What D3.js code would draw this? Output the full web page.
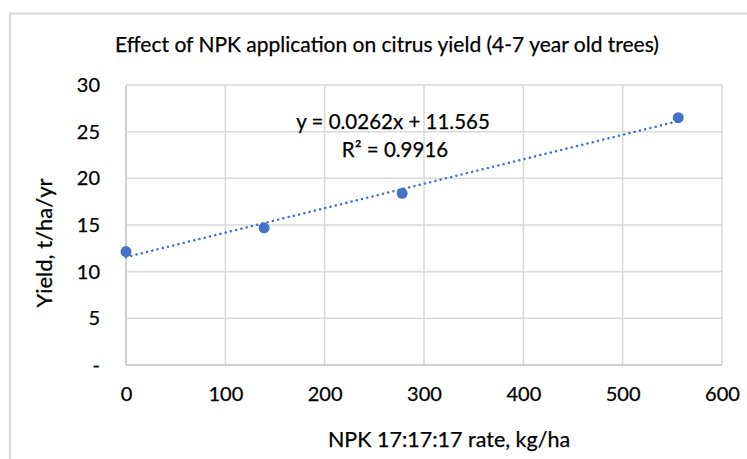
<!DOCTYPE html>
<html>
<head>
<meta charset="utf-8">
<script src="https://cdn.jsdelivr.net/npm/d3@7"></script>
<style>
  body { margin: 0; background: #fff; }
  svg { display: block; font-family: Lato, "Open Sans", sans-serif; }
  text { fill: #000; stroke: #000; stroke-width: 0.25px; }
</style>
</head>
<body>
<div id="chart"></div>
<script>
/* DATA */
const npkRates = [0, 139, 278, 556];          // kg/ha
const yields = [12.15, 14.7, 18.4, 26.5];     // t/ha/yr
const xTicks = [0, 100, 200, 300, 400, 500, 600];
const yTicks = [0, 5, 10, 15, 20, 25, 30];
const yTickLabels = ["-", "5", "10", "15", "20", "25", "30"];
const trendSlope = 0.0262, trendIntercept = 11.565;
const eqLines = ["y = 0.0262x + 11.565", "R² = 0.9916"];

/* LAYOUT */
const width = 747, height = 459;
const margin = { top: 85, right: 25, bottom: 94, left: 126 };
const blue = "#4472C4";

const svg = d3.select("#chart").append("svg")
  .attr("width", width)
  .attr("height", height);

// chart-area border (runs off the right and bottom edge)
svg.append("rect")
  .attr("x", 10).attr("y", 13.5)
  .attr("width", width + 20).attr("height", height + 20)
  .attr("fill", "none")
  .attr("stroke", "#d9d9d9")
  .attr("stroke-width", 2);

const x = d3.scaleLinear().domain([0, 600]).range([margin.left, width - margin.right]);
const y = d3.scaleLinear().domain([0, 30]).range([height - margin.bottom, margin.top]);

// gridlines
svg.append("g")
  .selectAll("line")
  .data(xTicks)
  .join("line")
  .attr("x1", d => x(d)).attr("x2", d => x(d))
  .attr("y1", y(0)).attr("y2", y(30))
  .attr("stroke", d => d === 0 ? "#bfbfbf" : "#d9d9d9")
  .attr("stroke-width", 1.5);

svg.append("g")
  .selectAll("line")
  .data(yTicks)
  .join("line")
  .attr("x1", x(0)).attr("x2", x(600))
  .attr("y1", d => y(d)).attr("y2", d => y(d))
  .attr("stroke", d => d === 0 ? "#bfbfbf" : "#d9d9d9")
  .attr("stroke-width", 1.5);

// axes (labels only)
const xAxis = d3.axisBottom(x).tickValues(xTicks).tickSize(0).tickPadding(22);
const yAxis = d3.axisLeft(y).tickValues(yTicks).tickSize(0).tickPadding(26)
  .tickFormat((d, i) => yTickLabels[i]);

svg.append("g")
  .attr("transform", `translate(0,${y(0)})`)
  .call(xAxis)
  .call(g => g.select(".domain").remove())
  .selectAll("text")
  .attr("font-size", 20)
  .attr("font-family", "Lato, sans-serif");

svg.append("g")
  .attr("transform", `translate(${x(0)},0)`)
  .call(yAxis)
  .call(g => g.select(".domain").remove())
  .selectAll("text")
  .attr("font-size", 20)
  .attr("font-family", "Lato, sans-serif");

// trendline
svg.append("line")
  .attr("x1", x(0)).attr("y1", y(trendIntercept))
  .attr("x2", x(d3.max(npkRates))).attr("y2", y(trendIntercept + trendSlope * d3.max(npkRates)))
  .attr("stroke", blue)
  .attr("stroke-width", 2.5)
  .attr("stroke-linecap", "round")
  .attr("stroke-dasharray", "0.1 5.3");

// points
svg.append("g")
  .selectAll("circle")
  .data(npkRates.map((d, i) => ({ x: d, y: yields[i] })))
  .join("circle")
  .attr("cx", d => x(d.x))
  .attr("cy", d => y(d.y))
  .attr("r", 5.5)
  .attr("fill", blue);

// equation label
svg.append("text")
  .attr("x", 393).attr("y", 129)
  .attr("text-anchor", "middle")
  .attr("font-size", 20.5)
  .text(eqLines[0]);
svg.append("text")
  .attr("x", 395).attr("y", 157)
  .attr("text-anchor", "middle")
  .attr("font-size", 20.5)
  .text(eqLines[1]);

// titles
svg.append("text")
  .attr("x", 387).attr("y", 52)
  .attr("text-anchor", "middle")
  .attr("font-size", 21)
  .text("Effect of NPK application on citrus yield (4-7 year old trees)");

svg.append("text")
  .attr("x", 449).attr("y", 447)
  .attr("text-anchor", "middle")
  .attr("font-size", 21.5)
  .text("NPK 17:17:17 rate, kg/ha");

svg.append("text")
  .attr("transform", "translate(52,243) rotate(-90)")
  .attr("text-anchor", "middle")
  .attr("font-size", 22)
  .text("Yield, t/ha/yr");
</script>
</body>
</html>
